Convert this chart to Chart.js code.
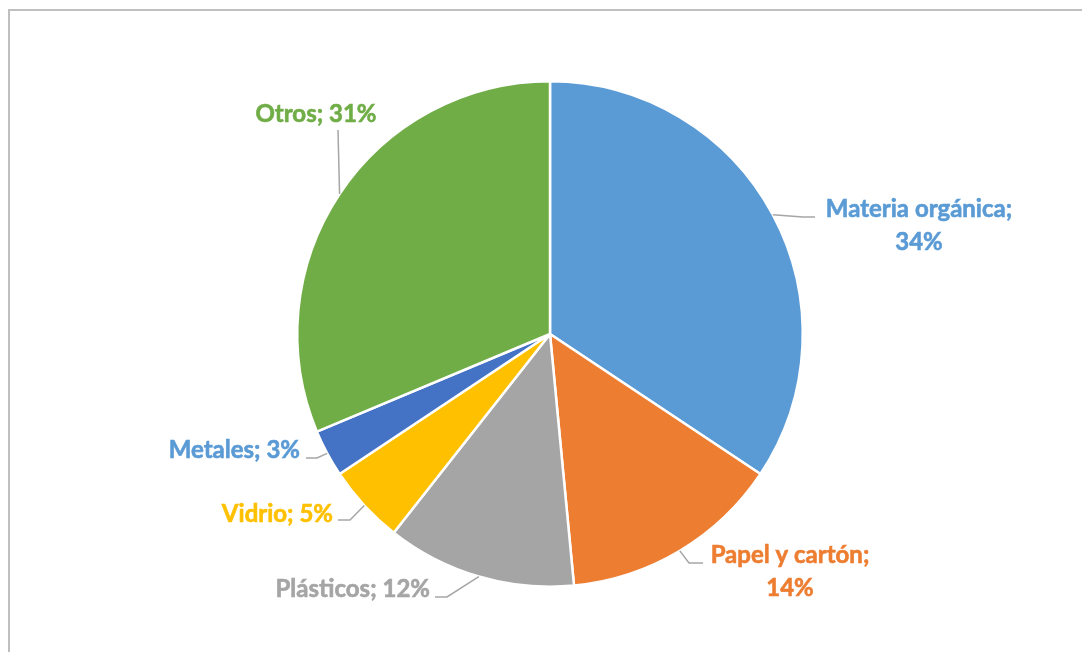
<!DOCTYPE html>
<html lang="es">
<head>
<meta charset="utf-8">
<title>Composición de residuos</title>
<script src="https://cdn.jsdelivr.net/npm/chart.js"></script>
<style>
  html, body { margin: 0; padding: 0; background: #fff; }
  #wrap { width: 1082px; height: 652px; }
</style>
</head>
<body>
<div id="wrap"><canvas id="pieChart" width="1082" height="652"></canvas></div>
<script>
// Composición de los residuos (porcentaje)
const categories = ['Materia orgánica', 'Papel y cartón', 'Plásticos', 'Vidrio', 'Metales', 'Otros'];
const shares = [34, 14, 12, 5, 3, 31];
const sliceColors = ['#5B9BD5', '#ED7D31', '#A5A5A5', '#FFC000', '#4472C4', '#70AD47'];
const labelColors = ['#5B9BD5', '#ED7D31', '#A5A5A5', '#FFC000', '#5B9BD5', '#70AD47'];

// label placement, offsets from the pie centre
// tx/ty = text anchor (first baseline), ex/ey = leader elbow, lx/ly = leader end
const labelLayout = [
    { tx: 369, ty: -117, align: 'center', ex: 253, ey: -117, lx: 265, ly: -117, split: true },
    { tx: 240, ty: 229, align: 'center', ex: 139, ey: 229, lx: 153, ly: 229, split: true },
    { tx: -120, ty: 263, align: 'right', ex: -103, ey: 263, lx: -115, ly: 263 },
    { tx: -217, ty: 188, align: 'right', ex: -200, ey: 186, lx: -212, ly: 186 },
    { tx: -250, ty: 124, align: 'right', ex: -233, ey: 124, lx: -244, ly: 124 },
    { tx: -234, ty: -212, align: 'center', ex: -212, ey: -204, lx: -212, ly: -204 }
];

const FONT = 'bold 24px Lato, "Open Sans", sans-serif';

const frameAndLabels = {
    id: 'frameAndLabels',
    beforeDraw(chart) {
        const ctx = chart.ctx;
        ctx.save();
        ctx.fillStyle = '#bfbfbf';
        ctx.fillRect(8, 9, chart.width - 8, 2);
        ctx.fillRect(8, 9, 2, chart.height - 9);
        ctx.restore();
    },
    afterDraw(chart) {
        const ctx = chart.ctx;
        const arcs = chart.getDatasetMeta(0).data;
        ctx.save();
        arcs.forEach((arc, i) => {
            const cx = arc.x, cy = arc.y;
            const mid = (arc.startAngle + arc.endAngle) / 2;
            const r = arc.outerRadius;
            const lay = labelLayout[i];

            // leader line from the slice edge
            ctx.beginPath();
            ctx.strokeStyle = '#a6a6a6';
            ctx.lineWidth = 1.5;
            ctx.moveTo(cx + Math.cos(mid) * r, cy + Math.sin(mid) * r);
            ctx.lineTo(cx + lay.ex, cy + lay.ey);
            ctx.lineTo(cx + lay.lx, cy + lay.ly);
            ctx.stroke();

            // label text, slightly stroked to thicken the bold face
            const lines = lay.split
                ? [categories[i] + ';', shares[i] + '%']
                : [categories[i] + '; ' + shares[i] + '%'];
            ctx.font = FONT;
            ctx.fillStyle = labelColors[i];
            ctx.strokeStyle = labelColors[i];
            ctx.lineWidth = 0.6;
            ctx.textAlign = lay.align;
            ctx.textBaseline = 'alphabetic';
            lines.forEach((t, k) => {
                const x = cx + lay.tx, y = cy + lay.ty + k * 33;
                ctx.fillText(t, x, y);
                ctx.strokeText(t, x, y);
            });
        });
        ctx.restore();
    }
};

new Chart(document.getElementById('pieChart').getContext('2d'), {
    type: 'pie',
    data: {
        labels: categories,
        datasets: [{
            data: shares,
            backgroundColor: sliceColors,
            borderColor: '#ffffff',
            borderWidth: 2.5
        }]
    },
    options: {
        responsive: false,
        animation: false,
        layout: {
            padding: { top: 80, bottom: 64, left: 100, right: 82 }
        },
        plugins: {
            legend: { display: false },
            tooltip: { enabled: false }
        }
    },
    plugins: [frameAndLabels]
});
</script>
</body>
</html>
